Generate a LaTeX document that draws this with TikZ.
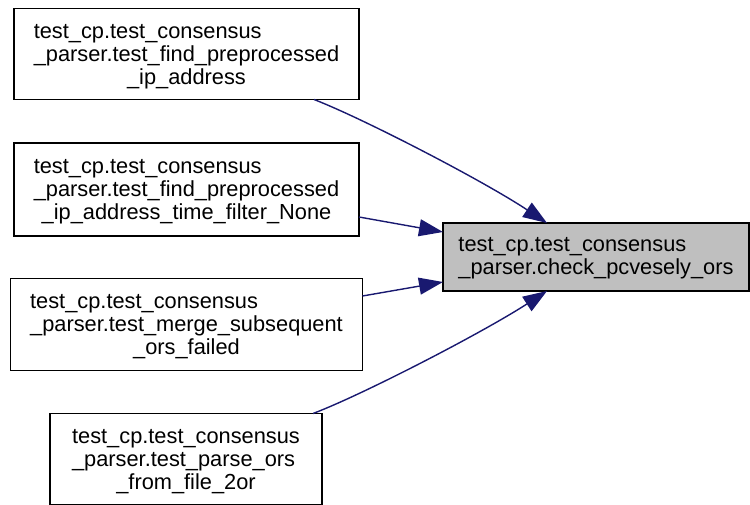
\documentclass[tikz,border=0pt]{standalone}
\usepackage{fontspec}
\setmainfont{Liberation Sans}
\usetikzlibrary{arrows.meta}
\definecolor{edgeblue}{HTML}{191970}
\definecolor{hilite}{HTML}{BFBFBF}
\newcommand{\lbl}[3]{{\fontsize{21.8}{23}\selectfont\begin{tabular}{@{}l@{}}\rule{0pt}{21pt}#1\\#2\\\multicolumn{1}{@{}c@{}}{#3}\end{tabular}}}
\newcommand{\lbltwo}[2]{{\fontsize{21.8}{23}\selectfont\begin{tabular}{@{}l@{}}\rule{0pt}{18pt}#1\\\multicolumn{1}{@{}c@{}}{#2}\end{tabular}}}
\tikzset{
  fnbox/.style={draw=black, line width=1.5pt, fill=white, inner sep=0pt, outer sep=0pt},
  conn/.style={draw=edgeblue, line width=1.4pt, -{Triangle[length=24pt,width=17pt]}},
}
\begin{document}
\begin{tikzpicture}[x=1pt,y=-1pt]
\useasboundingbox (0,0) rectangle (750,505);
\node[fnbox, minimum width=345pt, minimum height=91pt] (b1) at (186.5,54) {\lbl{test\_cp.test\_consensus}{\_parser.test\_find\_preprocessed}{\_ip\_address}};
\node[fnbox, minimum width=345pt, minimum height=93pt] (b2) at (186.5,189.5) {\lbl{test\_cp.test\_consensus}{\_parser.test\_find\_preprocessed}{\_ip\_address\_time\_filter\_None}};
\node[fnbox, minimum width=352pt, minimum height=92pt] (b3) at (186.5,324.5) {\lbl{test\_cp.test\_consensus}{\_parser.test\_merge\_subsequent}{\_ors\_failed}};
\node[fnbox, minimum width=272pt, minimum height=91pt] (b4) at (186,459) {\lbl{test\_cp.test\_consensus}{\_parser.test\_parse\_ors}{\_from\_file\_2or}};
\node[fnbox, fill=hilite, minimum width=306pt, minimum height=68pt] (t) at (596,257) {\lbltwo{test\_cp.test\_consensus}{\_parser.check\_pcvesely\_ors}};

\draw[conn] ([xshift=-45pt]b1.south east) .. controls (362,118) and (482,180) .. ([xshift=104pt]t.north west);
\draw[conn] ([yshift=-27.5pt]b2.east) -- ([yshift=25pt]t.west);
\draw[conn] ([yshift=28.5pt]b3.east) -- ([yshift=-25pt]t.west);
\draw[conn] ([xshift=-9pt]b4.north east) .. controls (362,395) and (482,333) .. ([xshift=104pt]t.south west);
\end{tikzpicture}
\end{document}
